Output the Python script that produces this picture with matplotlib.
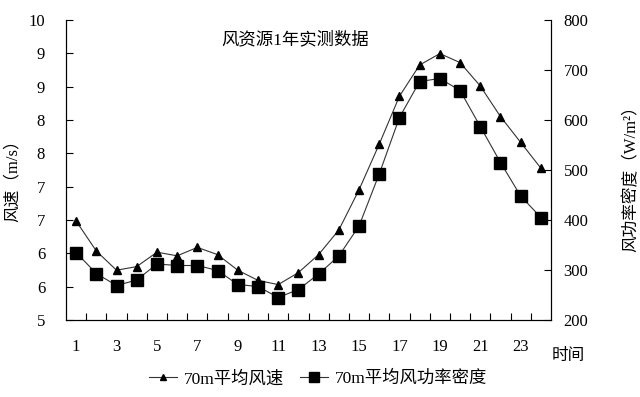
import numpy as np
import matplotlib
matplotlib.use('Agg')
import matplotlib.pyplot as plt
from matplotlib.ticker import FixedLocator, FormatStrFormatter

plt.rcParams['font.family'] = ['Liberation Serif', 'Noto Sans CJK SC']

hours = list(range(1, 25))
speed = [6.65, 6.15, 5.83, 5.89, 6.13, 6.07, 6.21, 6.09, 5.83, 5.66, 5.59, 5.79,
         6.09, 6.50, 7.17, 7.93, 8.73, 9.25, 9.44, 9.29, 8.90, 8.39, 7.96, 7.53]
power = [335, 293, 269, 280, 312, 309, 309, 299, 271, 267, 245, 261,
         292, 328, 388, 492, 605, 677, 683, 659, 587, 515, 448, 405]
xlabels = [str(h) for h in hours if h % 2 == 1]

fig = plt.figure(figsize=(6.4, 3.97), dpi=100)
ax = fig.add_axes([66/640, 77/397, 485/640, 300/397])
ax2 = ax.twinx()

l1, = ax.plot(hours, speed, color='#333333', lw=0.8, marker='^', ms=6,
              mfc='black', mec='black', label='70m平均风速')
l2, = ax2.plot(hours, power, color='#333333', lw=0.8, marker='s', ms=9,
               mfc='black', mec='black', label='70m平均风功率密度')

ax.set_xlim(0.5, 24.5)
ax.set_ylim(5, 10)
ax2.set_ylim(200, 800)

ax.set_xticks([h for h in hours if h % 2 == 1])
ax.set_xticklabels(xlabels)
ax.xaxis.set_minor_locator(FixedLocator(np.arange(1.5, 24, 1)))
ax.tick_params(axis='x', which='major', length=0, pad=14, labelsize=12)
ax.tick_params(axis='x', which='minor', direction='in', length=5, width=0.8)

ax.set_yticks(np.linspace(5, 10, 10))
ax.yaxis.set_major_formatter(FormatStrFormatter('%.0f'))
ax.tick_params(axis='y', direction='in', length=5, width=0.8, labelsize=12, pad=15)

ax2.set_yticks(range(200, 801, 100))
ax2.tick_params(axis='y', direction='in', length=5, width=0.8, labelsize=12, pad=9)

for a in (ax, ax2):
    a.spines['top'].set_visible(False)
    for s in ('left', 'right', 'bottom'):
        a.spines[s].set_linewidth(0.8)

ax.set_ylabel('风速（m/s）', fontsize=12)
ax.yaxis.set_label_coords((21 - 66) / 485, (320 - 177) / 300)
ax2.set_ylabel('风功率密度（W/m²）', fontsize=12)
ax2.yaxis.set_label_coords((623 - 66) / 485, (320 - 175) / 300)

ax.text(0.472, 0.933, '风资源1年实测数据', transform=ax.transAxes,
        ha='center', va='center', fontsize=12.5)
fig.text(568/640, 1 - 356/397, '时间', ha='center', va='center', fontsize=12)

fig.legend(handles=[l1, l2], loc='center', bbox_to_anchor=(318/640, 1 - 379/397),
           ncol=2, frameon=False, fontsize=12.5, markerscale=0.75,
           handlelength=1.6, handletextpad=0.4, columnspacing=0.9)

fig.savefig('out.png', dpi=100)
